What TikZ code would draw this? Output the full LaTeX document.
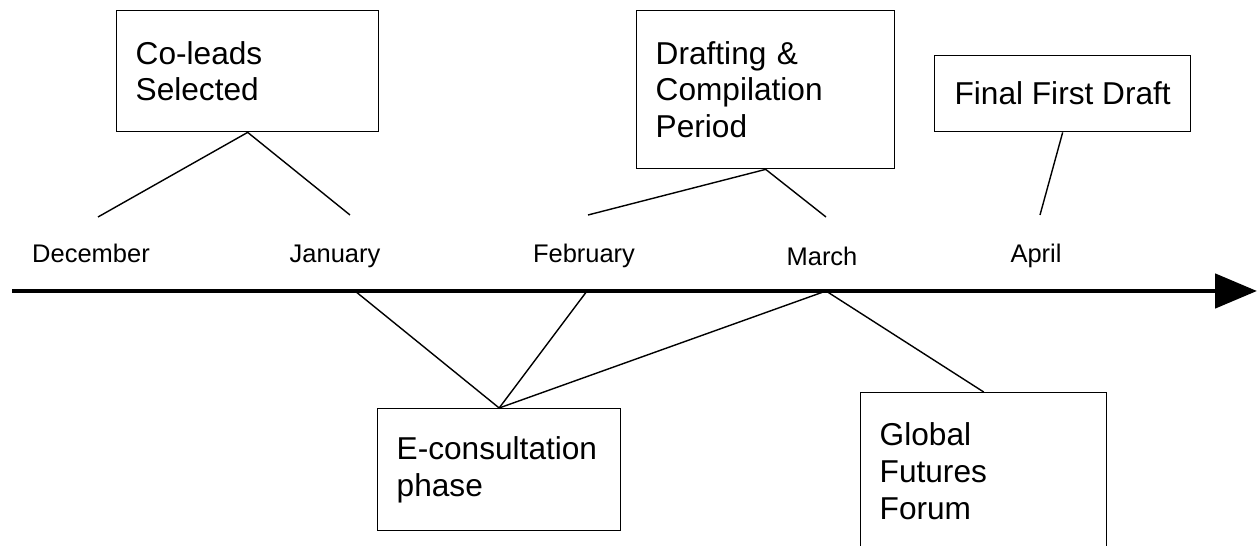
\documentclass[tikz,border=0pt]{standalone}
\usepackage{fontspec}
\setmainfont{Liberation Sans}
\usetikzlibrary{arrows.meta}
\tikzset{
	phase/.style={draw,line width=0.8pt,anchor=north west,align=left,inner xsep=0.38cm,inner ysep=0pt,font=\fontsize{18pt}{21pt}\selectfont},
	month/.style={anchor=base,inner sep=0pt,font=\fontsize{14.5pt}{17pt}\selectfont},
	link/.style={line width=0.8pt}
}
\begin{document}
\begin{tikzpicture}[x=0.02cm,y=-0.02cm]
		\useasboundingbox (0,0) rectangle (1258,546);
		% timeline
		\coordinate (start) at (12,291);
		\coordinate (end) at (1257,291);
		\draw[line width=2.8pt,-{Triangle[length=0.84cm,width=0.68cm]}] (start)--(end);
		\node[month] (dec) at (91,263) {December};
		\node[month] (jan) at (335,263) {January};
		\node[month] (feb) at (584,263) {February};
		\node[month] (mar) at (822,266) {March};
		\node[month] (apr) at (1036,263) {April};
		% points on the axis
		\coordinate (janAx) at (355,291);
		\coordinate (febAx) at (587,291);
		\coordinate (marAx) at (826,291);
		% free ends above the months
		\coordinate (decUp) at (98,217);
		\coordinate (janUp) at (350,215);
		\coordinate (febUp) at (588,215);
		\coordinate (marUp) at (826,217);
		\coordinate (aprUp) at (1040,215);
		% boxes
		\node[phase,text width=4.48cm,minimum height=2.42cm] (colead) at (116,10) {Co-leads\\Selected};
		\node[phase,text width=4.40cm,minimum height=3.16cm] (draft) at (636,10) {Drafting \&\\Compilation\\Period};
		\node[phase,minimum width=5.12cm,minimum height=1.52cm] (final) at (934,55) {Final First Draft};
		\node[phase,text width=4.10cm,minimum height=2.44cm] (econs) at (377,408) {E-consultation\\phase};
		\node[phase,text width=4.16cm,inner ysep=0.6cm] (gff) at (860,392) {Global\\Futures\\Forum\\[1cm]};
		% connectors
		\draw[link] (decUp)--(colead.south)--(janUp);
		\draw[link] (febUp)--(draft.south)--(marUp);
		\draw[link] (final.south)--(aprUp);
		\draw[link] (janAx)--(econs.north)--(febAx);
		\draw[link] (econs.north)--(marAx)--(gff.north);
\end{tikzpicture}
\end{document}
